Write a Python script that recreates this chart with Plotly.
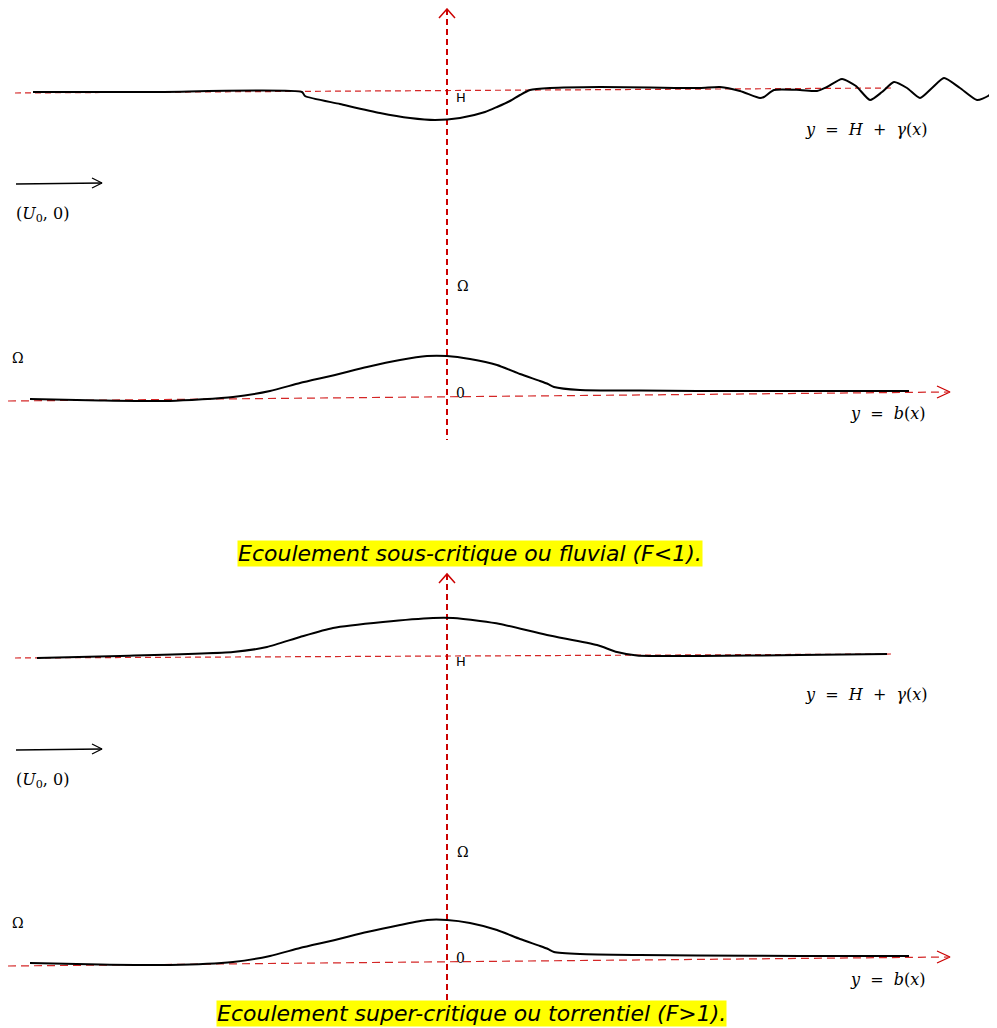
import plotly.graph_objects as go

W, H_PX = 997, 1028
PAGE_MARGIN = 8  # default body margin of the page

# ---- Panel 1 (sous-critique / fluvial) ----
surf1_x = [33, 150, 302, 305, 340, 380, 410, 435, 460, 485, 497, 510, 520, 530, 550, 600, 650, 700, 720, 740, 760, 764, 774, 800, 817, 827, 842, 856, 870, 882, 894, 907, 920, 932, 944, 960, 977, 988, 997]
surf1_y = [92, 92, 92, 96, 104, 113, 118, 120, 118, 112, 107, 101, 95, 90, 88, 87, 87.5, 88, 87, 91, 98, 97, 90, 90, 91, 87, 79, 86, 100, 92, 82, 88, 98, 88, 78, 88, 100, 96, 88]
bed1_x = [30, 100, 170, 233, 270, 300, 335, 367, 400, 427, 447, 470, 497, 520, 540, 548, 554, 580, 640, 697, 800, 909]
bed1_y = [399, 400.5, 401, 397, 391, 383, 375, 367, 360, 356, 356, 359, 365, 374, 381, 384, 387, 390, 390.5, 391, 391, 391]

# ---- Panel 2 (super-critique / torrentiel) ----
surf2_x = [37, 120, 233, 267, 300, 333, 383, 433, 453, 480, 500, 547, 597, 617, 637, 700, 800, 887]
surf2_y = [658, 656, 652, 647, 637, 628, 622, 618, 618, 621, 624, 635, 645, 652, 655.5, 656, 655, 654]
bed2_x = [30, 100, 170, 233, 270, 300, 335, 367, 400, 427, 447, 470, 497, 520, 540, 548, 554, 580, 640, 697, 800, 909]
bed2_y = [963, 964.5, 965, 962, 956, 948, 940, 932, 925, 920, 920, 923, 930, 939, 946, 949, 952, 954, 955, 955.5, 956, 956]

# ---- reference (dashed red) lines ----
vaxis_x = [[447, 447], [447, 447]]
vaxis_y = [[9, 440], [574, 1005]]
hline_x = [[15, 893], [15, 893]]
hline_y = [[93, 88], [658, 654]]
baseaxis_x = [[8, 948], [8, 948]]
baseaxis_y = [[401, 392], [966, 957]]

# arrowheads (open chevrons)
vhead_x = [[439, 447, 455], [439, 447, 455]]
vhead_y = [[18, 9, 18], [583, 574, 583]]
hhead_x = [[937, 950, 937], [937, 950, 937]]
hhead_y = [[386, 392, 398], [951, 957, 963]]

# flow arrows
flow_x = [[16, 102], [16, 102]]
flow_y = [[184, 183], [750, 749]]
flowhead_x = [[92, 102, 92], [92, 102, 92]]
flowhead_y = [[178, 183, 188], [744, 749, 754]]

# labels
titles = ["Ecoulement sous-critique ou fluvial (F<1).", "Ecoulement super-critique ou torrentiel (F>1)."]
title_xy = [(470, 553), (471, 1013)]
label_H_y = [97, 661]
label_eqH_y = [129, 694]
label_U_y = [214, 780]
label_omega_mid_y = [286, 852]
label_omega_left_y = [358, 923]
label_zero_y = [393, 958]
label_eqb_y = [413, 979]

RED = "rgba(204,0,0,0.85)"
fig = go.Figure()

def line(x, y, color="black", width=2, dash=None):
    fig.add_trace(go.Scatter(x=x, y=y, mode="lines", hoverinfo="skip",
                             line=dict(color=color, width=width, dash=dash, shape="spline", smoothing=0.6)))

def straight(x, y, color, width, dash=None):
    fig.add_trace(go.Scatter(x=x, y=y, mode="lines", hoverinfo="skip",
                             line=dict(color=color, width=width, dash=dash)))

for i in range(2):
    straight(hline_x[i], hline_y[i], RED, 1.2, "6px,4px")
    straight(baseaxis_x[i], baseaxis_y[i], RED, 1.2, "8px,5px")
    straight(vaxis_x[i], vaxis_y[i], "#cc0000", 2, "6px,4px")
    straight(vhead_x[i], vhead_y[i], "#cc0000", 1.5)
    straight(hhead_x[i], hhead_y[i], "#cc0000", 1.3)
    straight(flow_x[i], flow_y[i], "black", 1.3)
    straight(flowhead_x[i], flowhead_y[i], "black", 1.3)

line(surf1_x, surf1_y)
line(bed1_x, bed1_y)
line(surf2_x, surf2_y)
line(bed2_x, bed2_y)

serif = "DejaVu Serif"
sp = "&nbsp;"
eqH = "<i>y</i>" + sp * 2 + "=" + sp * 2 + "<i>H</i>" + sp * 2 + "+" + sp * 2 + "<i>γ</i>(<i>x</i>)"
eqb = "<i>y</i>" + sp * 2 + "=" + sp * 2 + "<i>b</i>(<i>x</i>)"
ann = []
for i in range(2):
    ann += [
        dict(x=461, y=label_H_y[i], text="H", font=dict(family="DejaVu Sans", size=13)),
        dict(x=866, y=label_eqH_y[i], text=eqH, font=dict(family=serif, size=16)),
        dict(x=42, y=label_U_y[i], text="(<i>U</i><sub>0</sub>," + sp + "0)", font=dict(family=serif, size=16)),
        dict(x=463, y=label_omega_mid_y[i], text="Ω", font=dict(family=serif, size=14)),
        dict(x=18, y=label_omega_left_y[i], text="Ω", font=dict(family=serif, size=14)),
        dict(x=460, y=label_zero_y[i], text="0", font=dict(family=serif, size=14)),
        dict(x=888, y=label_eqb_y[i], text=eqb, font=dict(family=serif, size=16)),
    ]
for t, (tx, ty) in zip(titles, title_xy):
    ann.append(dict(x=tx, y=ty, text="<i>" + t.replace("<", "&lt;").replace(">", "&gt;") + "</i>",
                    font=dict(family="DejaVu Sans", size=22),
                    bgcolor="#ffff00", borderpad=0))
for a in ann:
    a.update(xref="x", yref="y", showarrow=False, xanchor="center", yanchor="middle")
    a["font"]["color"] = "black"

# the page adds an 8px body margin, so the figure is shrunk and its ranges shifted
# so that one data unit equals one window pixel
fig.update_layout(
    width=W - PAGE_MARGIN, height=H_PX - PAGE_MARGIN, margin=dict(l=0, r=0, t=0, b=0),
    paper_bgcolor="white", plot_bgcolor="white", showlegend=False,
    xaxis=dict(range=[PAGE_MARGIN, W], visible=False, fixedrange=True),
    yaxis=dict(range=[H_PX, PAGE_MARGIN], visible=False, fixedrange=True),
    annotations=ann,
)
fig.write_html("out.html")
